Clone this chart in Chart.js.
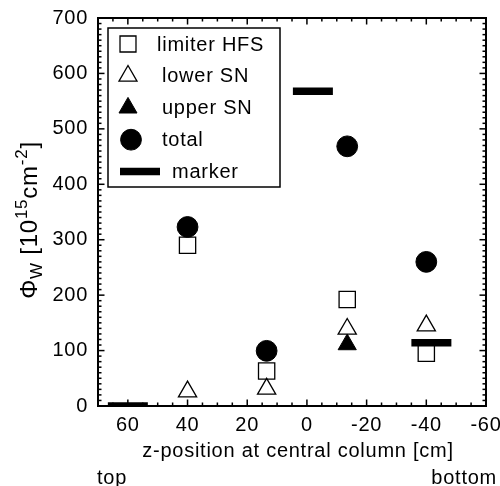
<!DOCTYPE html>
<html>
<head>
<meta charset="utf-8">
<script src="https://cdn.jsdelivr.net/npm/chart.js@4.4.0/dist/chart.umd.min.js"></script>
<style>
  html, body { margin: 0; padding: 0; background: #fff; }
</style>
</head>
<body>
<canvas id="myChart" width="500" height="486"></canvas>
<script>
// z-position at central column [cm], + is top, - is bottom
const zPos = [40, 13.5, -13.5, -40]
const limiterHFS = [290, 63, 192, 95]
const lowerSN = [26, 31, 139, 145]
const upperZ = [-13.5]
const upperSN = [111]
const total = [323, 99.5, 468.5, 260]
const markerZ = [60, -2, -41.7]
const markerVal = [0, 568, 114]

const xTicks = [60, 40, 20, 0, -20, -40, -60]
const yTicks = [0, 100, 200, 300, 400, 500, 600, 700]

const FONT = '"Liberation Sans", Arial, Helvetica, sans-serif'
const SIZE = 20
const SPACING = '0.75px'

const pts = (xs, ys) => xs.map((x, i) => ({ x: x, y: ys[i] }))

// the original helvetica is a bit wider than arial
const spacing = {
  id: 'spacing',
  beforeLayout(chart) { chart.ctx.letterSpacing = SPACING },
  beforeDraw(chart) { chart.ctx.letterSpacing = SPACING }
}

// box with ticks pointing inwards on all 4 sides
const frame = {
  id: 'boxTicks',
  afterDraw(chart) {
    const ctx = chart.ctx
    const a = chart.chartArea
    const xs = chart.scales.x
    const ys = chart.scales.y
    ctx.save()
    ctx.fillStyle = '#000'
    const lw = 1.5
    for (let v = -60; v <= 70; v += 5) {
      const px = xs.getPixelForValue(v)
      const len = Math.abs(v % 20) < 0.01 ? 6.5 : 3.5
      ctx.fillRect(px - lw / 2, a.bottom - len, lw, len)
      ctx.fillRect(px - lw / 2, a.top, lw, len)
    }
    for (let v = 0; v <= 700; v += 10) {
      const py = ys.getPixelForValue(v)
      const len = Math.abs(v % 100) < 0.01 ? 6.5 : 3.5
      ctx.fillRect(a.left, py - lw / 2, len, lw)
      ctx.fillRect(a.right - len, py - lw / 2, len, lw)
    }
    ctx.strokeStyle = '#000'
    ctx.lineWidth = 2
    ctx.strokeRect(a.left, a.top, a.right - a.left, a.bottom - a.top)
    ctx.restore()
  }
}

// legend box inside the plot
const legendBox = {
  id: 'legendBox',
  afterDraw(chart) {
    const { ctx, chartArea: a } = chart
    const left = a.left + 10, top = a.top + 10
    const symX = [128, 128, 128, 131, 140]
    const textX = [157, 162, 162, 162, 172]
    ctx.save()
    ctx.strokeStyle = '#000'
    ctx.lineWidth = 1.5
    ctx.strokeRect(left, top, 172, 159)
    ctx.font = SIZE + 'px ' + FONT
    ctx.textBaseline = 'middle'
    ctx.textAlign = 'left'
    chart.data.datasets.forEach((ds, i) => {
      const cy = top + 16 + i * 31.9
      ctx.fillStyle = ds.pointBackgroundColor
      ctx.strokeStyle = ds.pointBorderColor
      ctx.lineWidth = ds.pointBorderWidth
      const r = ds.pointStyle === 'rect' ? 11.3 : ds.pointStyle === 'line' ? 20 : 10.4
      Chart.helpers.drawPoint(ctx, {
        pointStyle: ds.pointStyle, rotation: 0, radius: r,
        borderWidth: ds.pointStyle === 'line' ? 7 : ds.pointBorderWidth
      }, symX[i], cy)
      ctx.fillStyle = '#000'
      ctx.fillText(ds.label, textX[i], cy + 1)
    })
    ctx.restore()
  }
}

// axis titles with sub/superscripts
const titles = {
  id: 'titles',
  afterDraw(chart) {
    const { ctx, chartArea: a } = chart
    ctx.save()
    ctx.fillStyle = '#000'
    ctx.font = SIZE + 'px ' + FONT
    ctx.textBaseline = 'alphabetic'
    ctx.textAlign = 'center'
    ctx.fillText('z-position at central column [cm]', a.left + 200, 456.5)
    ctx.textAlign = 'left'
    ctx.fillText('top', a.left - 1, 483.5)
    ctx.textAlign = 'right'
    ctx.fillText('bottom', 497, 483.5)

    const parts = [
      ['\u03A6', 24, 0], ['W', 17, 5], [' [10', 24, 0], ['15', 17, -10],
      ['cm', 24, 0], ['-2', 17, -10], [']', 24, 0]
    ]
    ctx.translate(37, 220)
    ctx.rotate(-Math.PI / 2)
    ctx.textAlign = 'left'
    let w = 0
    parts.forEach(p => { ctx.font = p[1] + 'px ' + FONT; w += ctx.measureText(p[0]).width })
    let x = -w / 2
    parts.forEach(p => {
      ctx.font = p[1] + 'px ' + FONT
      ctx.fillText(p[0], x, p[2])
      x += ctx.measureText(p[0]).width
    })
    ctx.restore()
  }
}

const ctx = document.getElementById('myChart')

new Chart(ctx, {
  type: 'scatter',
  data: {
    datasets: [
      {
        label: 'limiter HFS',
        data: pts(zPos, limiterHFS),
        pointStyle: 'rect', pointRadius: 11.5, pointBorderWidth: 1.3,
        pointBorderColor: '#000', pointBackgroundColor: 'rgba(255,255,255,0)'
      },
      {
        label: 'lower SN',
        data: pts(zPos, lowerSN),
        pointStyle: 'triangle', pointRadius: 10.5, pointBorderWidth: 1.3,
        pointBorderColor: '#000', pointBackgroundColor: 'rgba(255,255,255,0)'
      },
      {
        label: 'upper SN',
        data: pts(upperZ, upperSN),
        pointStyle: 'triangle', pointRadius: 10.5, pointBorderWidth: 1,
        pointBorderColor: '#000', pointBackgroundColor: '#000'
      },
      {
        label: 'total',
        data: pts(zPos, total),
        pointStyle: 'circle', pointRadius: 10.4, pointBorderWidth: 1,
        pointBorderColor: '#000', pointBackgroundColor: '#000'
      },
      {
        label: 'marker',
        data: pts(markerZ, markerVal),
        pointStyle: 'line', pointRadius: 20, pointBorderWidth: 7.5,
        pointBorderColor: '#000', pointBackgroundColor: '#000',
        clip: 0
      }
    ]
  },
  options: {
    responsive: false,
    animation: false,
    events: [],
    layout: { autoPadding: false, padding: { top: 18, right: 14, left: 0, bottom: 0 } },
    plugins: { legend: { display: false }, tooltip: { enabled: false } },
    scales: {
      x: {
        type: 'linear', reverse: true, min: -60, max: 70,
        grid: { display: false, drawTicks: false },
        border: { display: false },
        afterBuildTicks: s => { s.ticks = xTicks.map(v => ({ value: v })) },
        afterFit: s => { s.height = 80; s.paddingLeft = 0; s.paddingRight = 0 },
        ticks: { color: '#000', padding: 7, maxRotation: 0, font: { family: FONT, size: SIZE } }
      },
      y: {
        min: 0, max: 700,
        grid: { display: false, drawTicks: false },
        border: { display: false },
        afterBuildTicks: s => { s.ticks = yTicks.map(v => ({ value: v })) },
        afterFit: s => { s.width = 98; s.paddingTop = 0; s.paddingBottom = 0 },
        ticks: { color: '#000', padding: 10, font: { family: FONT, size: SIZE } }
      }
    }
  },
  plugins: [spacing, frame, legendBox, titles]
})
</script>
</body>
</html>
